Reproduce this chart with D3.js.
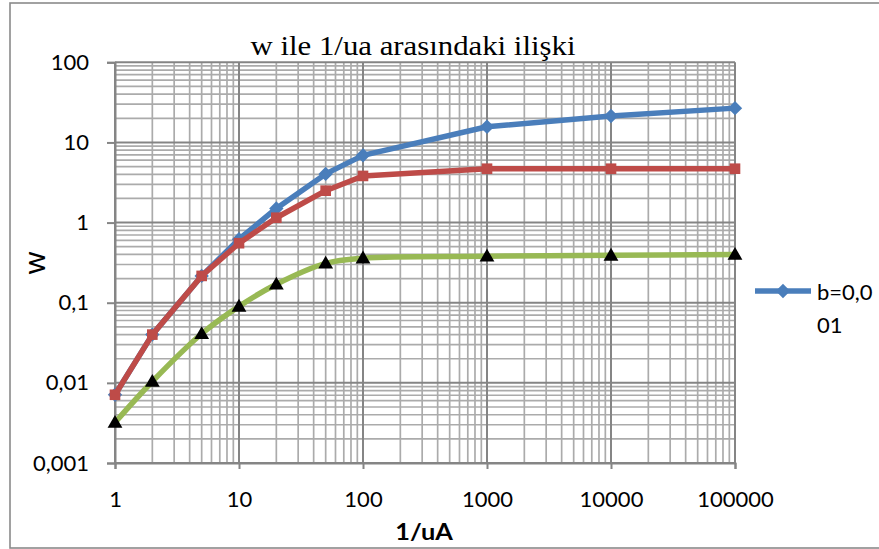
<!DOCTYPE html>
<html>
<head>
<meta charset="utf-8">
<script src="https://cdn.jsdelivr.net/npm/d3@7"></script>
<style>
  body { margin: 0; background: #fff; }
  text { font-family: Lato, "Open Sans", sans-serif; fill: #000; }
</style>
</head>
<body>
<svg id="chart" width="879" height="549"></svg>
<script>
// 1/uA values shared by all series
const xValues = [1, 2, 5, 10, 20, 50, 100, 1000, 10000, 100000];
// w for b=0,001 (blue, diamonds)
const wB001 = [0.0071, 0.04, 0.216, 0.62, 1.5, 4.05, 6.9, 15.7, 21.4, 26.8];
// second series (red, squares)
const wSeries2 = [0.0071, 0.04, 0.216, 0.553, 1.15, 2.5, 3.82, 4.7, 4.7, 4.7];
// third series (green, black triangles, smoothed)
const wSeries3 = [0.0032, 0.0104, 0.041, 0.09, 0.17, 0.31, 0.36, 0.38, 0.39, 0.40];

const xTicks = [1, 10, 100, 1000, 10000, 100000];
const xTickLabels = ["1", "10", "100", "1000", "10000", "100000"];
const yTicks = [0.001, 0.01, 0.1, 1, 10, 100];
const yTickLabels = ["0,001", "0,01", "0,1", "1", "10", "100"];

const titleText = "w ile 1/ua arasındaki ilişki";
const xTitle = "1/uA";
const yTitle = "w";
const legendLabel = ["b=0,0", "01"];

const svg = d3.select("#chart");
const plot = { left: 115, right: 735, top: 62.3, bottom: 463 };

const x = d3.scaleLog().domain([1, 100000]).range([plot.left, plot.right]);
const y = d3.scaleLog().domain([0.001, 100]).range([plot.bottom, plot.top]);

// outer chart frame
svg.append("rect")
  .attr("x", 10).attr("y", 3).attr("width", 880).attr("height", 545)
  .attr("fill", "#fff").attr("stroke", "#8a8a8a").attr("stroke-width", 1.6);

// grid: minor lines first, then decades on top
const isMajor = v => Math.abs(Math.log10(v) - Math.round(Math.log10(v))) < 1e-9;
const xGrid = x.ticks();
const yGrid = y.ticks();
const grid = svg.append("g");
[false, true].forEach(major => {
  grid.selectAll(null).data(xGrid.filter(v => isMajor(v) === major)).enter()
    .append("line")
    .attr("x1", d => x(d)).attr("x2", d => x(d))
    .attr("y1", plot.top).attr("y2", plot.bottom)
    .attr("stroke", major ? "#858585" : "#ababab")
    .attr("stroke-width", major ? 2 : 1.7);
  grid.selectAll(null).data(yGrid.filter(v => isMajor(v) === major)).enter()
    .append("line")
    .attr("x1", plot.left).attr("x2", plot.right)
    .attr("y1", d => y(d)).attr("y2", d => y(d))
    .attr("stroke", major ? "#858585" : "#ababab")
    .attr("stroke-width", major ? 2 : 1.7);
});

// axes
const xAxis = d3.axisBottom(x).tickValues(xTicks)
  .tickFormat((d, i) => xTickLabels[i]).tickSize(6).tickPadding(22);
const yAxis = d3.axisLeft(y).tickValues(yTicks)
  .tickFormat((d, i) => yTickLabels[i]).tickSize(8).tickPadding(18);

const gx = svg.append("g").attr("transform", `translate(0,${plot.bottom})`).call(xAxis);
const gy = svg.append("g").attr("transform", `translate(${plot.left},0)`).call(yAxis);
[gx, gy].forEach(g => {
  g.select(".domain").attr("stroke", "#858585").attr("stroke-width", 2);
  g.selectAll(".tick line").attr("stroke", "#858585").attr("stroke-width", 2);
  g.selectAll(".tick text").style("font-family", "Lato, sans-serif")
    .style("font-size", "22px").attr("fill", "#000");
});

// series
const series = [
  { values: wB001, color: "#4a7ebb", marker: "diamond", curve: d3.curveLinear },
  { values: wSeries2, color: "#be4b48", marker: "square", curve: d3.curveLinear },
  { values: wSeries3, color: "#98b954", marker: "triangle", curve: d3.curveCatmullRom.alpha(0.5) }
];

const symbolFor = {
  diamond: d3.symbol().type(d3.symbolDiamond2).size(85),
  square: d3.symbol().type(d3.symbolSquare2).size(144),
  triangle: d3.symbol().type(d3.symbolTriangle).size(95)
};

series.forEach(s => {
  const pts = xValues.map((xv, i) => [xv, s.values[i]]);
  const line = d3.line().x(d => x(d[0])).y(d => y(d[1])).curve(s.curve);
  svg.append("path").datum(pts)
    .attr("d", line).attr("fill", "none")
    .attr("stroke", s.color).attr("stroke-width", 5.5)
    .attr("stroke-linejoin", "round");
  const isTri = s.marker === "triangle";
  svg.append("g").selectAll("path").data(pts).enter().append("path")
    .attr("d", symbolFor[s.marker]())
    .attr("transform", d => `translate(${x(d[0])},${y(d[1]) + (isTri ? 1 : 0)})`)
    .attr("fill", isTri ? "#000" : s.color)
    .attr("stroke", isTri ? "none" : s.color)
    .attr("stroke-width", s.marker === "diamond" ? 2 : 0);
});

// title
svg.append("text")
  .attr("transform", "translate(413,55) scale(1.1,1)")
  .attr("text-anchor", "middle")
  .style("font-family", "'Liberation Serif', 'Times New Roman', serif")
  .style("font-size", "28px")
  .text(titleText);

// axis titles
svg.append("text")
  .attr("transform", "translate(424,540) scale(1.15,1)")
  .attr("text-anchor", "middle")
  .style("font-size", "22px").style("font-weight", "bold")
  .text(xTitle);

svg.append("text")
  .attr("transform", "translate(45,263) rotate(-90)")
  .attr("text-anchor", "middle")
  .style("font-size", "30px")
  .text(yTitle);

// legend (first entry)
const lg = svg.append("g");
lg.append("line").attr("x1", 755).attr("x2", 811).attr("y1", 291).attr("y2", 291)
  .attr("stroke", series[0].color).attr("stroke-width", 5.5);
lg.append("path").attr("d", symbolFor.diamond())
  .attr("transform", "translate(783,291)")
  .attr("fill", series[0].color).attr("stroke", series[0].color).attr("stroke-width", 2);
lg.selectAll("text").data(legendLabel).enter().append("text")
  .attr("x", 817).attr("y", (d, i) => 300 + i * 33)
  .style("font-size", "22px")
  .text(d => d);
</script>
</body>
</html>
